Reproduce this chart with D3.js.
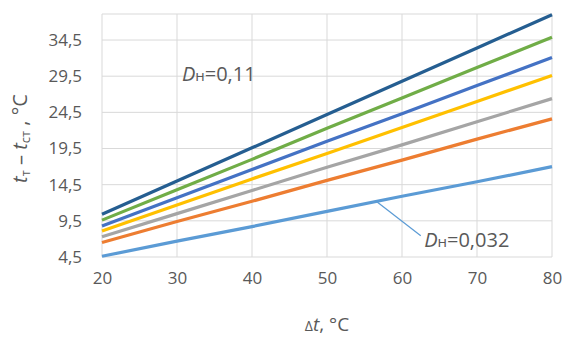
<!DOCTYPE html>
<html>
<head>
<meta charset="utf-8">
<script src="https://cdn.jsdelivr.net/npm/d3@7/dist/d3.min.js"></script>
<style>
  html, body { margin: 0; padding: 0; background: #fff; }
  svg { display: block; font-family: "Open Sans", "Noto Sans", sans-serif; }
</style>
</head>
<body>
<svg id="chart" width="566" height="338"></svg>
<script>
// Temperature difference vs Δt for several Dн values
const xValues = [20, 30, 40, 50, 60, 70, 80];
const xTicks = [20, 30, 40, 50, 60, 70, 80];
const yTicks = [4.5, 9.5, 14.5, 19.5, 24.5, 29.5, 34.5];

const seriesDarkBlue  = [10.4, 15.0, 19.6, 24.2, 28.8, 33.4, 38.0];
const seriesGreen     = [9.6, 13.8, 18.0, 22.3, 26.5, 30.7, 34.9];
const seriesBlue      = [8.8, 12.7, 16.6, 20.5, 24.3, 28.2, 32.1];
const seriesYellow    = [8.1, 11.7, 15.3, 18.8, 22.4, 26.0, 29.6];
const seriesGray      = [7.3, 10.5, 13.7, 16.9, 20.0, 23.2, 26.4];
const seriesOrange    = [6.5, 9.4, 12.2, 15.1, 17.9, 20.8, 23.6];
const seriesLightBlue = [4.6, 6.7, 8.7, 10.8, 12.9, 14.9, 17.0];

const seriesList = [
  { values: seriesLightBlue, color: "#5B9BD5" },
  { values: seriesOrange,    color: "#ED7D31" },
  { values: seriesGray,      color: "#A5A5A5" },
  { values: seriesYellow,    color: "#FFC000" },
  { values: seriesBlue,      color: "#4472C4" },
  { values: seriesGreen,     color: "#70AD47" },
  { values: seriesDarkBlue,  color: "#255E91" }
];

// Annotation labels (positions in data units)
const labelTop = { x: 30.65, y: 28.85, value: "0,11" };
const labelBottom = { x: 62.95, y: 5.9, value: "0,032", fromX: 56.6, toX: 62.5, toY: 7.45 };

const svg = d3.select("#chart");
const margin = { left: 102, right: 14, top: 14, bottom: 81 };
const W = 566, H = 338;

const x = d3.scaleLinear().domain([20, 80]).range([margin.left, W - margin.right]);
const y = d3.scaleLinear().domain([4.5, 38.1]).range([H - margin.bottom, margin.top]);

const textColor = "#595959";
const gridColor = "#D9D9D9";

// Grid
const grid = svg.append("g");
grid.selectAll("line.h").data(yTicks).join("line")
  .attr("x1", x.range()[0]).attr("x2", x.range()[1])
  .attr("y1", d => y(d)).attr("y2", d => y(d))
  .attr("stroke", gridColor).attr("stroke-width", 1);
grid.selectAll("line.v").data(xTicks).join("line")
  .attr("x1", d => x(d)).attr("x2", d => x(d))
  .attr("y1", y.range()[0]).attr("y2", y.range()[1])
  .attr("stroke", gridColor).attr("stroke-width", 1);
grid.append("line")
  .attr("x1", x.range()[0]).attr("x2", x.range()[1])
  .attr("y1", y.range()[1]).attr("y2", y.range()[1])
  .attr("stroke", gridColor).attr("stroke-width", 1);

// Axes (labels only)
const fmt = d => d3.format(".1f")(d).replace(".", ",");
const yAxis = svg.append("g")
  .attr("transform", `translate(${margin.left},0)`)
  .call(d3.axisLeft(y).tickValues(yTicks).tickFormat(fmt).tickSize(0).tickPadding(20));
const xAxis = svg.append("g")
  .attr("transform", `translate(0,${H - margin.bottom})`)
  .call(d3.axisBottom(x).tickValues(xTicks).tickFormat(d3.format("d")).tickSize(0).tickPadding(15));
[yAxis, xAxis].forEach(a => {
  a.select(".domain").remove();
  a.selectAll("text").attr("fill", textColor).style("font-size", "17px")
    .style("font-family", "'Open Sans', sans-serif");
});

// Series lines
const line = d3.line().x((d, i) => x(xValues[i])).y(d => y(d));
svg.append("g").selectAll("path").data(seriesList).join("path")
  .attr("d", d => line(d.values))
  .attr("fill", "none")
  .attr("stroke", d => d.color)
  .attr("stroke-width", 3.2)
  .attr("stroke-linecap", "butt");

// Annotations
function dLabel(g, px, py, value) {
  const t = g.append("text").attr("x", px).attr("y", py)
    .attr("fill", textColor).style("font-size", "20px");
  t.append("tspan").attr("font-style", "italic").text("D");
  t.append("tspan").style("font-size", "15px").text("н");
  t.append("tspan").text("=" + value);
}
const ann = svg.append("g");
dLabel(ann, x(labelTop.x), y(labelTop.y), labelTop.value);

// Leader from the lowest series to its label
const lb = labelBottom;
const lbSeriesY = d3.scaleLinear().domain(xValues).range(seriesLightBlue)(lb.fromX);
ann.append("line")
  .attr("x1", x(lb.fromX)).attr("y1", y(lbSeriesY))
  .attr("x2", x(lb.toX)).attr("y2", y(lb.toY))
  .attr("stroke", "#5B9BD5").attr("stroke-width", 1.2);
dLabel(ann, x(lb.x), y(lb.y), lb.value);

// Axis titles
const xt = svg.append("text")
  .attr("x", (x.range()[0] + x.range()[1]) / 2).attr("y", 331)
  .attr("text-anchor", "middle").attr("fill", textColor).style("font-size", "19px");
xt.append("tspan").style("font-size", "14px").text("Δ");
xt.append("tspan").attr("font-style", "italic").text("t");
xt.append("tspan").text(", °C");

const yt = svg.append("text")
  .attr("transform", `translate(27,${(y.range()[0] + y.range()[1]) / 2 + 3}) rotate(-90)`)
  .attr("text-anchor", "middle").attr("fill", textColor).style("font-size", "20px");
yt.append("tspan").attr("font-style", "italic").text("t");
yt.append("tspan").style("font-size", "13px").attr("dy", 3).text("т");
yt.append("tspan").attr("dy", -3).text(" – ");
yt.append("tspan").attr("font-style", "italic").text("t");
yt.append("tspan").style("font-size", "13px").attr("dy", 3).text("ст");
yt.append("tspan").attr("dy", -3).text(" , °C");
</script>
</body>
</html>
